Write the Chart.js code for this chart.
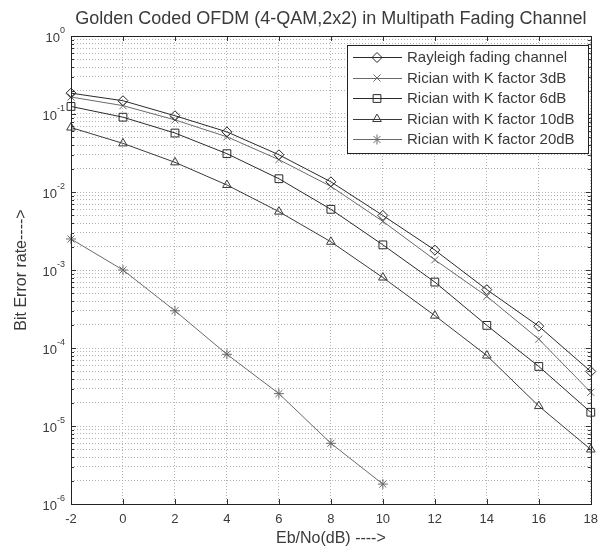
<!DOCTYPE html>
<html>
<head>
<meta charset="utf-8">
<script src="https://cdn.jsdelivr.net/npm/chart.js@4.4.1/dist/chart.umd.min.js"></script>
<style>
  html, body { margin: 0; padding: 0; background: #fff; }
  #wrap { width: 606px; height: 548px; }
</style>
</head>
<body>
<div id="wrap"><canvas id="ber-chart" width="606" height="548"></canvas></div>
<script>
// Eb/No (dB) sample points
var ebNo = [-2, 0, 2, 4, 6, 8, 10, 12, 14, 16, 18];

// bit error rate
var rayleigh = [0.185, 0.148, 0.095, 0.059, 0.030, 0.0135, 5.0e-3, 1.8e-3, 5.6e-4, 1.9e-4, 5.0e-5];
var rician3 = [0.165, 0.128, 0.084, 0.051, 0.026, 0.0118, 4.2e-3, 1.35e-3, 4.6e-4, 1.3e-4, 2.7e-5];
var rician6 = [0.125, 0.091, 0.057, 0.031, 0.0148, 6.0e-3, 2.1e-3, 7.0e-4, 1.95e-4, 5.8e-5, 1.5e-5];
var rician10 = [0.067, 0.042, 0.024, 0.0123, 5.6e-3, 2.3e-3, 8.0e-4, 2.6e-4, 8.0e-5, 1.8e-5, 5.0e-6];
var rician20 = [2.5e-3, 1.0e-3, 3.0e-4, 8.3e-5, 2.6e-5, 6.0e-6, 1.8e-6];

var seriesNames = ["Rayleigh fading channel", "Rician with K factor 3dB", "Rician with K factor 6dB",
                   "Rician with K factor 10dB", "Rician with K factor 20dB"];

// y axis decades and their exponent labels
var yDecades = [1e0, 1e-1, 1e-2, 1e-3, 1e-4, 1e-5, 1e-6];
var yExponents = ["0", "-1", "-2", "-3", "-4", "-5", "-6"];
var xTicks = [-2, 0, 2, 4, 6, 8, 10, 12, 14, 16, 18];

var FONT = "'Liberation Sans', Arial, Helvetica, sans-serif";
var TEXT = "#3a3a3a";

// minor log grid: 2..9 x 10^k
var yGrid = [];
yDecades.forEach(function (d) {
  yGrid.push(d);
  if (d < 1) for (var m = 2; m <= 9; m++) yGrid.push(d * m);
});

function pts(values) {
  return values.map(function (v, i) { return { x: ebNo[i], y: v }; });
}

function series(i, values, style, color) {
  return {
    label: seriesNames[i],
    data: pts(values),
    borderColor: color,
    borderWidth: 1,
    pointStyle: style,
    pointRadius: style == 'rect' ? 5.5 : 5,
    pointBorderColor: color,
    pointBackgroundColor: 'rgba(0,0,0,0)',
    pointBorderWidth: 1,
    tension: 0,
    clip: false
  };
}

var datasets = [
  series(0, rayleigh, 'rectRot', '#2a2a2a'),
  series(1, rician3, 'crossRot', '#6a6a6a'),
  series(2, rician6, 'rect', '#2a2a2a'),
  series(3, rician10, 'triangle', '#3a3a3a'),
  series(4, rician20, 'star', '#6a6a6a')
];

// matlab style frame, inner ticks, superscript labels, title and legend
var matlabBits = {
  id: 'matlabBits',
  afterDraw: function (chart) {
    var ctx = chart.ctx, a = chart.chartArea;
    var xs = chart.scales.x, ys = chart.scales.y;
    ctx.save();

    // ticks pointing inward
    ctx.strokeStyle = '#333';
    ctx.lineWidth = 1;
    ctx.beginPath();
    xTicks.forEach(function (t) {
      var px = Math.round(xs.getPixelForValue(t)) + 0.5;
      ctx.moveTo(px, a.bottom); ctx.lineTo(px, a.bottom - 5);
      ctx.moveTo(px, a.top); ctx.lineTo(px, a.top + 5);
    });
    yGrid.forEach(function (v) {
      var py = Math.round(ys.getPixelForValue(v)) + 0.5;
      var len = yDecades.indexOf(v) >= 0 ? 5 : 3;
      ctx.moveTo(a.left, py); ctx.lineTo(a.left + len, py);
      ctx.moveTo(a.right, py); ctx.lineTo(a.right - len, py);
    });
    ctx.stroke();

    // frame
    ctx.strokeStyle = '#222';
    ctx.strokeRect(Math.round(a.left) + 0.5, Math.round(a.top) + 0.5,
                   Math.round(a.right - a.left), Math.round(a.bottom - a.top));

    // y tick labels 10^k
    ctx.fillStyle = TEXT;
    ctx.textBaseline = 'middle';
    yDecades.forEach(function (v, i) {
      var py = ys.getPixelForValue(v);
      ctx.font = '9px ' + FONT;
      var ew = ctx.measureText(yExponents[i]).width;
      ctx.textAlign = 'left';
      ctx.fillText(yExponents[i], a.left - 6 - ew, py - 5);
      ctx.font = '13px ' + FONT;
      ctx.textAlign = 'right';
      ctx.fillText('10', a.left - 6 - ew, py + 2);
    });

    // title
    ctx.font = '18px ' + FONT;
    ctx.textAlign = 'center';
    ctx.fillStyle = '#3a3a3a';
    ctx.fillText('Golden Coded OFDM (4-QAM,2x2) in Multipath Fading Channel', (a.left + a.right) / 2, 19);

    // legend box
    var lx = 347, ly = 45, lw = 241, lh = 108;
    ctx.fillStyle = '#fff';
    ctx.fillRect(lx, ly, lw, lh);
    ctx.strokeStyle = '#222';
    ctx.strokeRect(lx + 0.5, ly + 0.5, lw, lh);
    ctx.font = '15px ' + FONT;
    ctx.textAlign = 'left';
    chart.data.datasets.forEach(function (ds, i) {
      var ry = ly + 12 + i * 20.5;
      ctx.strokeStyle = ds.borderColor;
      ctx.lineWidth = 1;
      ctx.beginPath();
      ctx.moveTo(lx + 6, Math.round(ry) + 0.5);
      ctx.lineTo(lx + 55, Math.round(ry) + 0.5);
      ctx.stroke();
      if (Chart.helpers && Chart.helpers.drawPoint) {
        ctx.fillStyle = 'rgba(0,0,0,0)';
        Chart.helpers.drawPoint(ctx, {
          pointStyle: ds.pointStyle, radius: ds.pointRadius, rotation: 0, borderWidth: 1
        }, lx + 30, ry + 0.5);
      }
      ctx.fillStyle = TEXT;
      ctx.fillText(ds.label, lx + 60, ry + 1);
    });
    ctx.restore();
  }
};

new Chart(document.getElementById('ber-chart'), {
  type: 'line',
  data: { datasets: datasets },
  options: {
    responsive: false,
    animation: false,
    devicePixelRatio: 1,
    layout: { padding: { top: 36, right: 15, left: 0, bottom: 0 } },
    plugins: {
      legend: { display: false },
      title: { display: false },
      tooltip: { enabled: false }
    },
    scales: {
      x: {
        type: 'linear',
        min: -2,
        max: 18,
        ticks: { stepSize: 2, padding: 8, color: TEXT, font: { family: FONT, size: 13 } },
        grid: { color: '#b4b4b4', drawTicks: false },
        border: { display: false, dash: [1, 2] },
        title: {
          display: true, text: 'Eb/No(dB) ---->', color: TEXT,
          font: { family: FONT, size: 16 }, padding: { top: 5, bottom: 0 }
        },
        afterFit: function (s) { s.height = 44; }
      },
      y: {
        type: 'logarithmic',
        min: 1e-6,
        max: 1,
        afterBuildTicks: function (s) {
          s.ticks = yGrid.map(function (v) { return { value: v, major: yDecades.indexOf(v) >= 0 }; });
        },
        ticks: { display: false, autoSkip: false },
        grid: { color: '#b4b4b4', drawTicks: false },
        border: { display: false, dash: [1, 2] },
        title: {
          display: true, text: 'Bit Error rate---->', color: TEXT,
          font: { family: FONT, size: 16 }, padding: { top: 12, bottom: 0 }
        },
        afterFit: function (s) { s.width = 71; }
      }
    }
  },
  plugins: [matlabBits]
});
</script>
</body>
</html>
